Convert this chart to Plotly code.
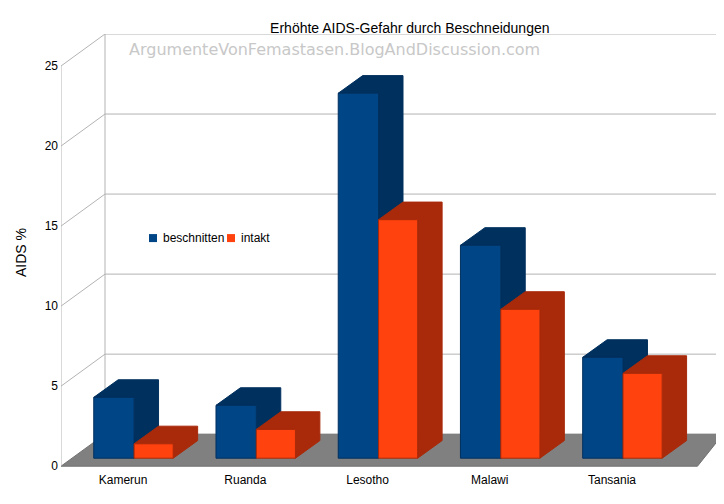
import plotly.graph_objects as go

categories = ["Kamerun", "Ruanda", "Lesotho", "Malawi", "Tansania"]
beschnitten = [3.8, 3.3, 22.8, 13.3, 6.3]
intakt = [0.9, 1.8, 14.9, 9.3, 5.3]
yticks = [0, 5, 10, 15, 20, 25]
series_names = ["beschnitten", "intakt"]

XMIN, XMAX = -0.508, 4.908
WX, WY = 0.36, 2.0      # wall depth
D, E = 0.2, 1.1         # bar depth
BASE = 0.5
BLUE, BLUE_D = "#004586", "#00305e"
ORA, ORA_D = "#ff420e", "#a82a0a"

fig = go.Figure()
shapes = []
shapes.append(dict(type="path", layer="below",
    path=f"M{XMIN},0 L{XMIN+WX},{WY} L{XMAX},{WY} L{XMAX-WX*0.58},0 Z",
    fillcolor="#808080", line=dict(color="#707070", width=1)))
shapes.append(dict(type="line", layer="below", x0=XMIN, y0=0, x1=XMIN, y1=25, line=dict(color="#b3b3b3", width=1)))
shapes.append(dict(type="line", layer="below", x0=XMIN+WX, y0=WY, x1=XMIN+WX, y1=25+WY, line=dict(color="#b3b3b3", width=1)))
for v in yticks:
    if v == 0:
        continue
    shapes.append(dict(type="path", layer="below",
        path=f"M{XMIN},{v} L{XMIN+WX},{v+WY} L{XMAX},{v+WY}",
        line=dict(color="#b3b3b3", width=1)))

def bar(x0, x1, v, front, dark, name):
    t = BASE + v
    fig.add_trace(go.Scatter(
        x=[x0, x0 + D, x1 + D, x1 + D, x1, x1, x0],
        y=[t, t + E, t + E, BASE + E, BASE, t, t],
        fill="toself", fillcolor=dark, mode="lines",
        line=dict(color=dark, width=1), showlegend=False, hoverinfo="skip"))
    fig.add_trace(go.Scatter(
        x=[x0, x1, x1, x0, x0], y=[BASE, BASE, t, t, BASE],
        fill="toself", fillcolor=front, mode="lines",
        line=dict(color=dark, width=1), showlegend=False, name=name))

for i, c in enumerate(categories):
    bar(i - 0.24, i + 0.09, beschnitten[i], BLUE, BLUE_D, series_names[0])
    bar(i + 0.09, i + 0.41, intakt[i], ORA, ORA_D, series_names[1])

# legend drawn manually
annotations = [dict(text="ArgumenteVonFemastasen.BlogAndDiscussion.com", xref="paper", yref="paper",
                    x=0.1, y=0.99, xanchor="left", showarrow=False,
                    font=dict(size=16, color="#c8c8c8", family="DejaVu Sans"))]
LY = 0.533
for name, col, px in [(series_names[0], BLUE, 141), (series_names[1], ORA, 219)]:
    xp = (px - 53) / 662
    shapes.append(dict(type="rect", xref="paper", yref="paper",
                       x0=xp, x1=xp + 8 / 662, y0=LY - 4 / 437, y1=LY + 4 / 437,
                       fillcolor=col, line=dict(width=0)))
    annotations.append(dict(text=name, xref="paper", yref="paper", x=xp + 12 / 662, y=LY,
                            xanchor="left", yanchor="middle", showarrow=False,
                            font=dict(size=12, color="#000")))

fig.update_layout(
    width=724, height=504, margin=dict(l=53, r=9, t=26, b=41, autoexpand=False),
    paper_bgcolor="white", plot_bgcolor="white",
    font=dict(family="Liberation Sans, Arial", size=12, color="#000"),
    title=dict(text="Erhöhte AIDS-Gefahr durch Beschneidungen", x=0.555, y=0.97,
               xanchor="center", font=dict(size=14)),
    shapes=shapes,
    showlegend=False,
    xaxis=dict(range=[XMIN, XMAX], tickvals=list(range(len(categories))), ticktext=categories,
               showgrid=False, zeroline=False, showline=False, ticks="", automargin=False),
    yaxis=dict(range=[-0.3, 27.0], tickvals=yticks, showgrid=False, zeroline=False,
               showline=False, ticks="", automargin=False, ticklabelstandoff=2,
               title=dict(text="AIDS %", standoff=14)),
    annotations=annotations,
)
fig.write_html("out.html")
